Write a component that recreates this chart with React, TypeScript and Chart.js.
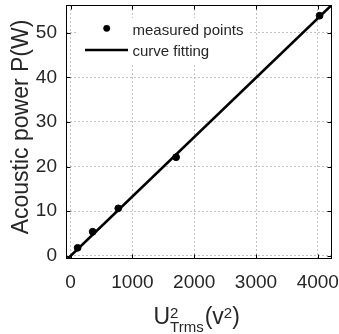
import React, { useEffect, useRef } from 'react';
import { Chart, registerables } from 'chart.js';

Chart.register(...registerables);

// ---- data ----
const measuredX = [113, 357, 771, 1707, 4029];
const measuredY = [1.8, 5.4, 10.65, 22.1, 53.8];
const fitX = [-100, 4300];
const fitY = [-1.33, 57.2];
const xTicks = [0, 1000, 2000, 3000, 4000];
const yTicks = [0, 10, 20, 30, 40, 50];
const xRange = [-75, 4230];
const yRange = [-0.7, 56.2];
const legendLabels = ['measured points', 'curve fitting'];
const yTitle = 'Acoustic power P(W)';

const FONT = '"Liberation Sans", Arial, Helvetica, sans-serif';
const TEXT = '#262626';

const noPad = (s: any) => {
  s.paddingLeft = 0;
  s.paddingRight = 0;
  s.paddingTop = 0;
  s.paddingBottom = 0;
};

const decor = {
  id: 'decor',
  beforeDatasetsDraw(chart: any) {
    const ctx = chart.ctx;
    ctx.save();
    ctx.fillStyle = '#ffffff';
    ctx.fillRect(77, 18, 171, 45);
    ctx.restore();
  },
  afterDraw(chart: any) {
    const ctx = chart.ctx;
    const a = chart.chartArea;
    const xs = chart.scales.x;
    const ys = chart.scales.y;
    ctx.save();
    // box
    ctx.strokeStyle = '#000';
    ctx.lineWidth = 1;
    const L = Math.round(a.left) + 0.5, R = Math.round(a.right) - 0.5;
    const T = Math.round(a.top) + 0.5, B = Math.round(a.bottom) - 0.5;
    ctx.strokeRect(L, T, R - L, B - T);
    // inward ticks
    ctx.beginPath();
    xTicks.forEach((v) => {
      const px = Math.round(xs.getPixelForValue(v)) + 0.5;
      ctx.moveTo(px, B); ctx.lineTo(px, B - 4);
      ctx.moveTo(px, T); ctx.lineTo(px, T + 4);
    });
    yTicks.forEach((v) => {
      const py = Math.round(ys.getPixelForValue(v)) + 0.5;
      ctx.moveTo(L, py); ctx.lineTo(L + 4, py);
      ctx.moveTo(R, py); ctx.lineTo(R - 4, py);
    });
    ctx.stroke();

    // legend
    ctx.fillStyle = '#000';
    ctx.beginPath();
    ctx.arc(106.7, 28.3, 3.4, 0, Math.PI * 2);
    ctx.fill();
    ctx.lineWidth = 2.6;
    ctx.beginPath();
    ctx.moveTo(85, 50);
    ctx.lineTo(128, 50);
    ctx.stroke();
    ctx.fillStyle = TEXT;
    ctx.font = `15px ${FONT}`;
    ctx.textAlign = 'left';
    ctx.textBaseline = 'alphabetic';
    ctx.fillText(legendLabels[0], 132.5, 35);
    ctx.fillText(legendLabels[1], 132.5, 55.5);

    // y title
    ctx.save();
    ctx.translate(27.5, 127);
    ctx.rotate(-Math.PI / 2);
    ctx.font = `23px ${FONT}`;
    ctx.textAlign = 'center';
    ctx.fillText(yTitle, 0, 0);
    ctx.restore();

    // x title: U^2_Trms (v^2)
    const big = `23px ${FONT}`;
    const small = `15px ${FONT}`;
    let x = 153.5;
    const base = 324;
    ctx.textAlign = 'left';
    ctx.font = big;
    ctx.fillText('U', x, base);
    x += ctx.measureText('U').width;
    ctx.font = small;
    ctx.fillText('2', x, base - 6);
    ctx.fillText('Trms', x, base + 8);
    x += ctx.measureText('Trms').width + 1;
    ctx.font = big;
    ctx.fillText('(v', x, base);
    x += ctx.measureText('(v').width;
    ctx.font = small;
    ctx.fillText('2', x, base - 6);
    x += ctx.measureText('2').width;
    ctx.font = big;
    ctx.fillText(')', x, base);
    ctx.restore();
  },
};

export default function App() {
  const ref = useRef<HTMLCanvasElement | null>(null);
  useEffect(() => {
    if (!ref.current) return;
    const chart = new Chart(ref.current, {
      type: 'scatter',
      data: {
        datasets: [
          {
            label: legendLabels[1],
            type: 'line',
            data: fitX.map((x, i) => ({ x, y: fitY[i] })),
            borderColor: '#000',
            borderWidth: 2.6,
            pointRadius: 0,
            fill: false,
            clip: 0,
            order: 1,
          } as any,
          {
            label: legendLabels[0],
            data: measuredX.map((x, i) => ({ x, y: measuredY[i] })),
            backgroundColor: '#000',
            borderColor: '#000',
            pointRadius: 3.4,
            pointHoverRadius: 3.4,
            order: 2,
          },
        ],
      },
      options: {
        responsive: false,
        animation: false,
        devicePixelRatio: 1,
        layout: { padding: { top: 5, right: 7, left: 0, bottom: 0 } },
        plugins: { legend: { display: false }, tooltip: { enabled: false } },
        events: [],
        scales: {
          x: {
            type: 'linear',
            min: xRange[0],
            max: xRange[1],
            afterBuildTicks: (s: any) => { s.ticks = xTicks.map((v) => ({ value: v })); },
            afterFit: (s: any) => { s.height = 75; noPad(s); },
            grid: { color: '#c2c2c2', lineWidth: 1, drawTicks: false },
            border: { display: false, dash: [2, 2] },
            ticks: {
              color: TEXT,
              font: { size: 19, family: FONT },
              padding: 12,
              maxRotation: 0,
              callback: (v: any) => String(v),
            },
          },
          y: {
            type: 'linear',
            min: yRange[0],
            max: yRange[1],
            afterBuildTicks: (s: any) => { s.ticks = yTicks.map((v) => ({ value: v })); },
            afterFit: (s: any) => { s.width = 66; noPad(s); },
            grid: { color: '#c2c2c2', lineWidth: 1, drawTicks: false },
            border: { display: false, dash: [2, 2] },
            ticks: {
              color: TEXT,
              font: { size: 19, family: FONT },
              padding: 9,
              callback: (v: any) => String(v),
            },
          },
        },
      },
      plugins: [decor],
    });
    return () => chart.destroy();
  }, []);
  return (
    <div style={{ position: 'absolute', left: 0, top: 0, width: 339, height: 334, background: '#fff' }}>
      <canvas ref={ref} width={339} height={334} />
    </div>
  );
}
